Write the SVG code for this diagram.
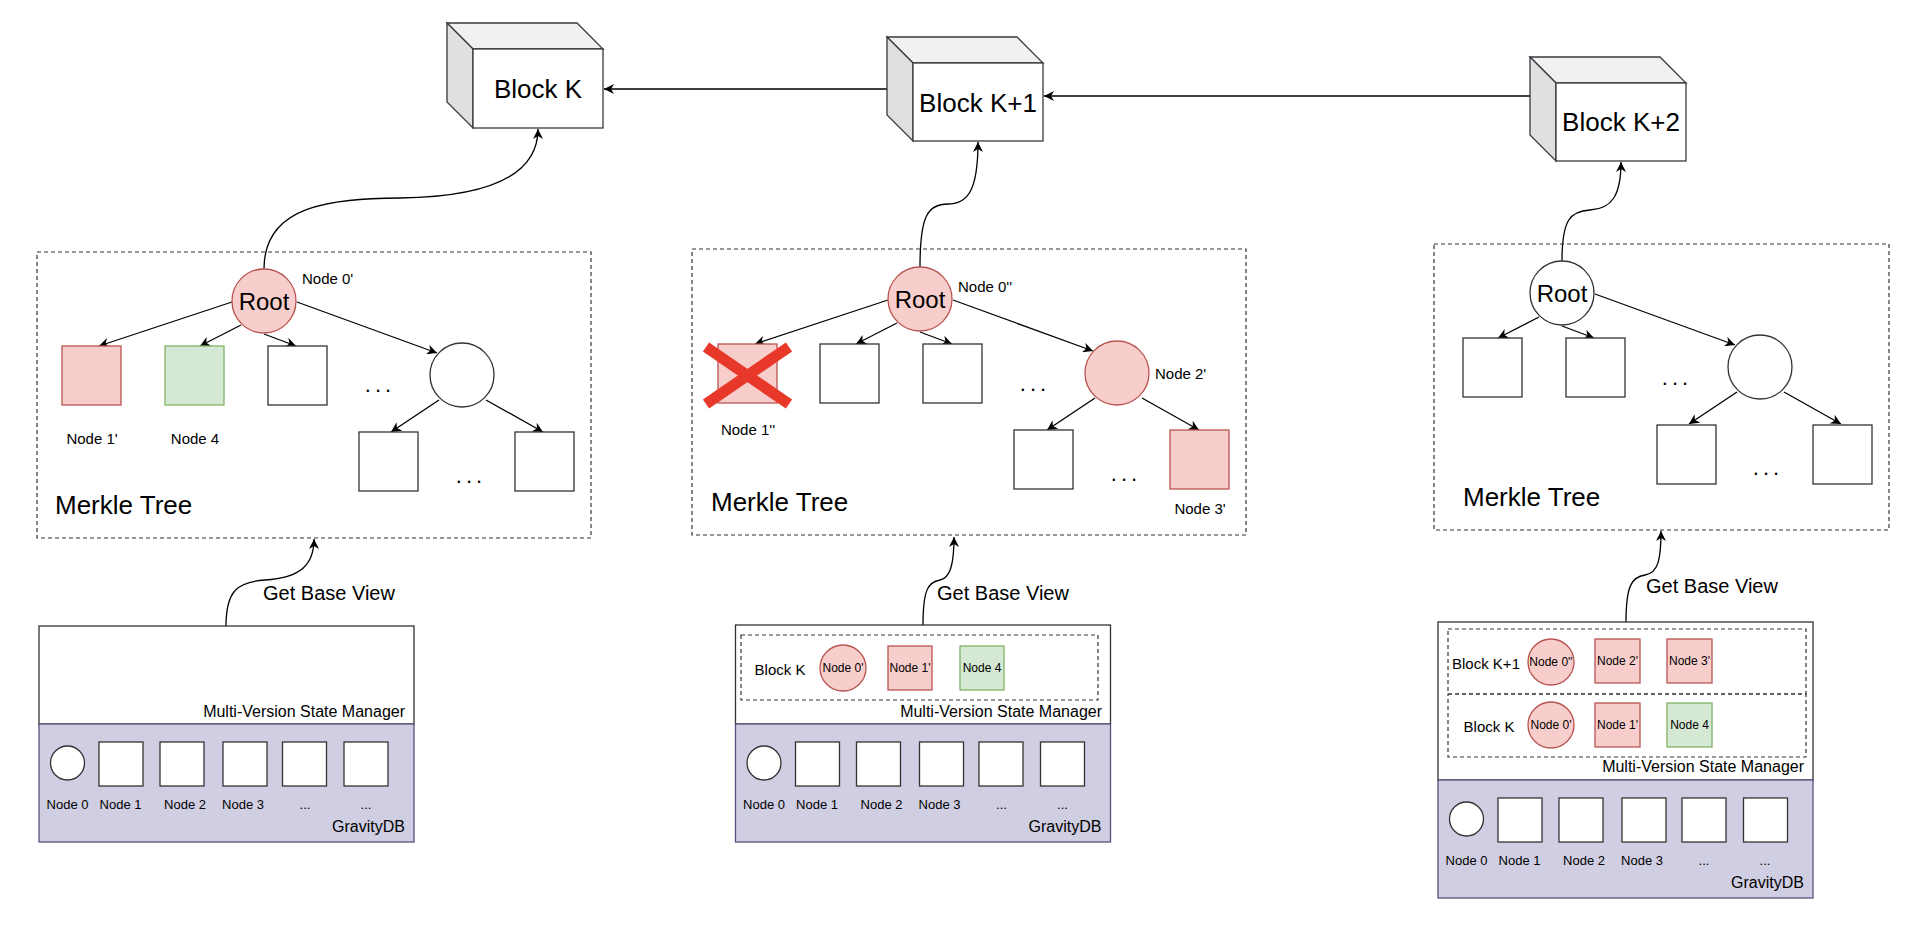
<svg xmlns="http://www.w3.org/2000/svg" width="1906" height="926" viewBox="0 0 1906 926">
<style>
text{font-family:"Liberation Sans",Arial,sans-serif;fill:#000}
.blk{font-size:26px;text-anchor:middle;dominant-baseline:central}
.root{font-size:24px;text-anchor:middle;dominant-baseline:central}
.lbl{font-size:15px;dominant-baseline:central}
.mt{font-size:26px}
.gbv{font-size:20px}
.mvsm{font-size:16px;text-anchor:end}
.gdb{font-size:16px;text-anchor:end}
.gl{font-size:13px;text-anchor:middle}
.sm{font-size:12px;text-anchor:middle;dominant-baseline:central}
.bk{font-size:15px;text-anchor:middle;dominant-baseline:central}
.dots{font-size:22px;text-anchor:middle;letter-spacing:4px}
.front{fill:#fff;stroke:#36393d;stroke-width:1.3}
.top{fill:#f1f1f1;stroke:#36393d;stroke-width:1.3}
.side{fill:#e0e0e0;stroke:#36393d;stroke-width:1.3}
.dash{fill:none;stroke:#333;stroke-width:1.2;stroke-dasharray:4 3}
.w{fill:#fff;stroke:#333;stroke-width:1.3}
.pk{fill:#f8cecc;stroke:#b85450;stroke-width:1.3}
.gr{fill:#d5e8d4;stroke:#82b366;stroke-width:1.3}
.mv{fill:#fff;stroke:#333;stroke-width:1.3}
.gdbox{fill:#d0cee2;stroke:#56517e;stroke-width:1.3}
.c{fill:none;stroke:#000;stroke-width:1.3;marker-end:url(#ah)}
.x{stroke:#e8382a;stroke-width:11}
</style>
<defs>
<marker id="ah" markerUnits="userSpaceOnUse" markerWidth="11" markerHeight="10" refX="10" refY="5" orient="auto">
<path d="M0,0 L10,5 L0,10 L3,5 z" fill="#000"/>
</marker>
</defs>

<g id="connectors">
<path class="c" d="M887,89 L604,89"/>
<path class="c" d="M1530,96 L1044,96"/>
<path class="c" d="M264,269 C264,205 330,199 400,198 C480,197 538,180 538,129"/>
<path class="c" d="M920,267 C920,215 928,204 948,204 C968,204 978,190 978,142"/>
<path class="c" d="M1562,261 C1562,220 1570,211 1590,210 C1612,209 1621,195 1621,162"/>
<path class="c" d="M226,626 C226,590 238,582 265,580 C300,578 314,565 314,539"/>
<path class="c" d="M923,625 C923,590 928,582 940,580 C950,578 954,565 954,537"/>
<path class="c" d="M1626,622 C1626,585 1632,577 1645,575 C1658,573 1661,560 1661,531"/>
<!-- tree 1 -->
<path class="c" d="M232,302 L99,346"/>
<path class="c" d="M241,325 L200,346"/>
<path class="c" d="M264,334 L296,346"/>
<path class="c" d="M297,302 L437,353"/>
<path class="c" d="M439,400 L391,432"/>
<path class="c" d="M486,400 L543,432"/>
<!-- tree 2 -->
<path class="c" d="M888,300 L755,344"/>
<path class="c" d="M897,323 L856,344"/>
<path class="c" d="M920,332 L952,344"/>
<path class="c" d="M953,300 L1093,351"/>
<path class="c" d="M1095,398 L1047,430"/>
<path class="c" d="M1142,398 L1199,430"/>
<!-- tree 3 -->
<path class="c" d="M1539,317 L1498,338"/>
<path class="c" d="M1562,326 L1594,338"/>
<path class="c" d="M1595,294 L1735,345"/>
<path class="c" d="M1737,392 L1689,424"/>
<path class="c" d="M1784,392 L1841,424"/>
</g>

<g id="block-k">
<polygon class="top" points="447,23 577,23 603,49 473,49"/>
<polygon class="side" points="447,23 473,49 473,128 447,102"/>
<rect class="front" x="473" y="49" width="130" height="79"/>
<text class="blk" x="538" y="89">Block K</text>
</g>
<g id="block-k1">
<polygon class="top" points="887,37 1017,37 1043,63 913,63"/>
<polygon class="side" points="887,37 913,63 913,141 887,115"/>
<rect class="front" x="913" y="63" width="130" height="78"/>
<text class="blk" x="978" y="103">Block K+1</text>
</g>
<g id="block-k2">
<polygon class="top" points="1530,57 1660,57 1686,83 1556,83"/>
<polygon class="side" points="1530,57 1556,83 1556,161 1530,135"/>
<rect class="front" x="1556" y="83" width="130" height="78"/>
<text class="blk" x="1621" y="122">Block K+2</text>
</g>

<g id="merkle-1">
<rect class="dash" x="37" y="252" width="554" height="286"/>
<text class="mt" x="55" y="514">Merkle Tree</text>
<g id="m1-root"><circle class="pk" cx="264" cy="301" r="32"/><text class="root" x="264" y="301">Root</text></g>
<text class="lbl" x="302" y="278">Node 0'</text>
<rect id="m1-n1" class="pk" x="62" y="346" width="59" height="59"/>
<rect id="m1-n4" class="gr" x="165" y="346" width="59" height="59"/>
<rect id="m1-n" class="w" x="268" y="346" width="59" height="59"/>
<text class="lbl" x="92" y="438" text-anchor="middle">Node 1'</text>
<text class="lbl" x="195" y="438" text-anchor="middle">Node 4</text>
<text class="dots" x="380" y="392">...</text>
<circle id="m1-c" class="w" cx="462" cy="375" r="32"/>
<rect class="w" x="359" y="432" width="59" height="59"/>
<rect class="w" x="515" y="432" width="59" height="59"/>
<text class="dots" x="471" y="483">...</text>
</g>

<g id="merkle-2">
<rect class="dash" x="692" y="249" width="554" height="286"/>
<text class="mt" x="711" y="511">Merkle Tree</text>
<g id="m2-root"><circle class="pk" cx="920" cy="299" r="32"/><text class="root" x="920" y="299">Root</text></g>
<text class="lbl" x="958" y="286">Node 0''</text>
<g id="m2-n1">
<rect class="pk" x="718" y="344" width="59" height="59"/>
<line class="x" x1="706" y1="347" x2="789" y2="404"/>
<line class="x" x1="789" y1="347" x2="706" y2="404"/>
</g>
<text class="lbl" x="748" y="429" text-anchor="middle">Node 1''</text>
<rect class="w" x="820" y="344" width="59" height="59"/>
<rect class="w" x="923" y="344" width="59" height="59"/>
<text class="dots" x="1035" y="391">...</text>
<circle id="m2-n2" class="pk" cx="1117" cy="373" r="32"/>
<text class="lbl" x="1155" y="373">Node 2'</text>
<rect class="w" x="1014" y="430" width="59" height="59"/>
<rect id="m2-n3" class="pk" x="1170" y="430" width="59" height="59"/>
<text class="dots" x="1126" y="481">...</text>
<text class="lbl" x="1200" y="508" text-anchor="middle">Node 3'</text>
</g>

<g id="merkle-3">
<rect class="dash" x="1434" y="244" width="455" height="286"/>
<text class="mt" x="1463" y="506">Merkle Tree</text>
<g id="m3-root"><circle class="w" cx="1562" cy="293" r="32"/><text class="root" x="1562" y="293">Root</text></g>
<rect class="w" x="1463" y="338" width="59" height="59"/>
<rect class="w" x="1566" y="338" width="59" height="59"/>
<text class="dots" x="1677" y="385">...</text>
<circle class="w" cx="1760" cy="367" r="32"/>
<rect class="w" x="1657" y="425" width="59" height="59"/>
<rect class="w" x="1813" y="425" width="59" height="59"/>
<text class="dots" x="1768" y="475">...</text>
</g>

<g id="labels-gbv">
<text class="gbv" x="263" y="600">Get Base View</text>
<text class="gbv" x="937" y="600">Get Base View</text>
<text class="gbv" x="1646" y="593">Get Base View</text>
</g>

<g id="state-1">
<rect class="mv" x="39" y="626" width="375" height="98"/>
<text class="mvsm" x="405" y="717">Multi-Version State Manager</text>
</g>
<g id="gravity-1">
<rect class="gdbox" x="39" y="724" width="375" height="118"/>
<circle class="w" cx="67.5" cy="763" r="17"/>
<rect class="w" x="99" y="742" width="44" height="44"/>
<rect class="w" x="160" y="742" width="44" height="44"/>
<rect class="w" x="223" y="742" width="44" height="44"/>
<rect class="w" x="282.5" y="742" width="44" height="44"/>
<rect class="w" x="344" y="742" width="44" height="44"/>
<text class="gl" x="67.5" y="809">Node 0</text>
<text class="gl" x="120.5" y="809">Node 1</text>
<text class="gl" x="185" y="809">Node 2</text>
<text class="gl" x="243" y="809">Node 3</text>
<text class="gl" x="305" y="809">...</text>
<text class="gl" x="366" y="809">...</text>
<text class="gdb" x="405" y="832">GravityDB</text>
</g>

<g id="state-2">
<rect class="mv" x="735.5" y="625" width="375" height="99"/>
<rect class="dash" x="741" y="635" width="357" height="65"/>
<text class="bk" x="780" y="669">Block K</text>
<circle class="pk" cx="843" cy="668" r="23"/><text class="sm" x="843" y="668">Node 0'</text>
<rect class="pk" x="888" y="646" width="44" height="44"/><text class="sm" x="910" y="668">Node 1'</text>
<rect class="gr" x="960" y="646" width="44" height="44"/><text class="sm" x="982" y="668">Node 4</text>
<text class="mvsm" x="1102" y="717">Multi-Version State Manager</text>
</g>
<g id="gravity-2">
<rect class="gdbox" x="735.5" y="724" width="375" height="118"/>
<circle class="w" cx="764" cy="763" r="17"/>
<rect class="w" x="795.5" y="742" width="44" height="44"/>
<rect class="w" x="856.5" y="742" width="44" height="44"/>
<rect class="w" x="919.5" y="742" width="44" height="44"/>
<rect class="w" x="979" y="742" width="44" height="44"/>
<rect class="w" x="1040.5" y="742" width="44" height="44"/>
<text class="gl" x="764" y="809">Node 0</text>
<text class="gl" x="817" y="809">Node 1</text>
<text class="gl" x="881.5" y="809">Node 2</text>
<text class="gl" x="939.5" y="809">Node 3</text>
<text class="gl" x="1001.5" y="809">...</text>
<text class="gl" x="1062.5" y="809">...</text>
<text class="gdb" x="1101.5" y="832">GravityDB</text>
</g>

<g id="state-3">
<rect class="mv" x="1438" y="622" width="375" height="158"/>
<rect class="dash" x="1448" y="629" width="358" height="65"/>
<rect class="dash" x="1448" y="694" width="358" height="63"/>
<text class="bk" x="1486" y="663">Block K+1</text>
<circle class="pk" cx="1551" cy="662" r="23"/><text class="sm" x="1551" y="662">Node 0''</text>
<rect class="pk" x="1595" y="639" width="45" height="44"/><text class="sm" x="1617.5" y="661">Node 2'</text>
<rect class="pk" x="1667" y="639" width="45" height="44"/><text class="sm" x="1689.5" y="661">Node 3'</text>
<text class="bk" x="1489" y="726">Block K</text>
<circle class="pk" cx="1551" cy="725" r="23"/><text class="sm" x="1551" y="725">Node 0'</text>
<rect class="pk" x="1595" y="703" width="45" height="44"/><text class="sm" x="1617.5" y="725">Node 1'</text>
<rect class="gr" x="1667" y="703" width="45" height="44"/><text class="sm" x="1689.5" y="725">Node 4</text>
<text class="mvsm" x="1804" y="772">Multi-Version State Manager</text>
</g>
<g id="gravity-3">
<rect class="gdbox" x="1438" y="780" width="375" height="118"/>
<circle class="w" cx="1466.5" cy="819" r="17"/>
<rect class="w" x="1498" y="798" width="44" height="44"/>
<rect class="w" x="1559" y="798" width="44" height="44"/>
<rect class="w" x="1622" y="798" width="44" height="44"/>
<rect class="w" x="1682" y="798" width="44" height="44"/>
<rect class="w" x="1743.5" y="798" width="44" height="44"/>
<text class="gl" x="1466.5" y="865">Node 0</text>
<text class="gl" x="1519.5" y="865">Node 1</text>
<text class="gl" x="1584" y="865">Node 2</text>
<text class="gl" x="1642" y="865">Node 3</text>
<text class="gl" x="1704" y="865">...</text>
<text class="gl" x="1765" y="865">...</text>
<text class="gdb" x="1804" y="888">GravityDB</text>
</g>
</svg>
